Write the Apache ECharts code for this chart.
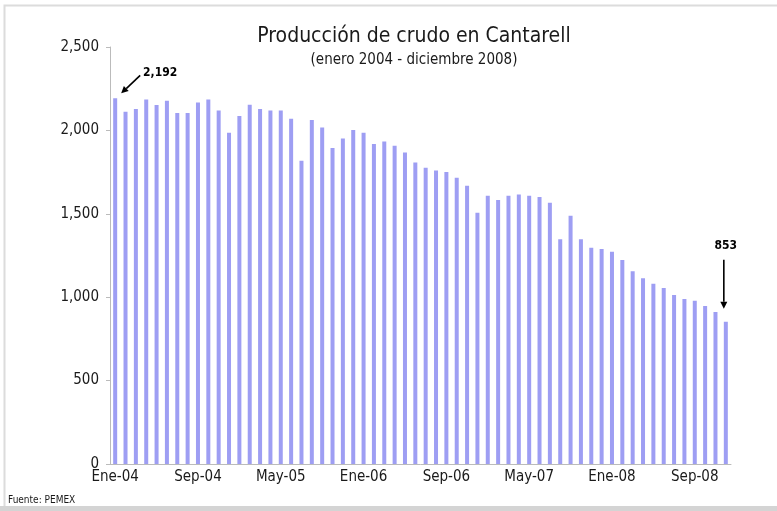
<!DOCTYPE html>
<html>
<head>
<meta charset="utf-8">
<script src="https://cdn.jsdelivr.net/npm/echarts@6/dist/echarts.min.js"></script>
<style>
  html, body { margin: 0; padding: 0; background: #fff; }
  #chart { width: 777px; height: 511px; }
</style>
</head>
<body>
<div id="chart"></div>
<script>
// meses ene-2004 .. dic-2008
const months = [
  'Ene-04','Feb-04','Mar-04','Abr-04','May-04','Jun-04','Jul-04','Ago-04','Sep-04','Oct-04','Nov-04','Dic-04',
  'Ene-05','Feb-05','Mar-05','Abr-05','May-05','Jun-05','Jul-05','Ago-05','Sep-05','Oct-05','Nov-05','Dic-05',
  'Ene-06','Feb-06','Mar-06','Abr-06','May-06','Jun-06','Jul-06','Ago-06','Sep-06','Oct-06','Nov-06','Dic-06',
  'Ene-07','Feb-07','Mar-07','Abr-07','May-07','Jun-07','Jul-07','Ago-07','Sep-07','Oct-07','Nov-07','Dic-07',
  'Ene-08','Feb-08','Mar-08','Abr-08','May-08','Jun-08','Jul-08','Ago-08','Sep-08','Oct-08','Nov-08','Dic-08'
];

// producción (miles de barriles diarios)
const produccion = [
  2192, 2112, 2128, 2186, 2152, 2178, 2104, 2104, 2168, 2186, 2120, 1986,
  2086, 2154, 2128, 2120, 2120, 2070, 1818, 2062, 2018, 1894, 1952, 2002,
  1986, 1918, 1934, 1908, 1868, 1808, 1776, 1760, 1750, 1716, 1668, 1507,
  1608, 1582, 1608, 1616, 1608, 1600, 1566, 1347, 1489, 1347, 1297, 1289,
  1273, 1223, 1155, 1113, 1081, 1055, 1013, 989, 979, 947, 911, 853
];

const yTicks = { min: 0, max: 2500, step: 500 };

const FONT = "'Liberation Sans Narrow', 'DejaVu Sans Condensed', Arial, sans-serif";
const fmt = (v) => v.toLocaleString('en-US');

const chart = echarts.init(document.getElementById('chart'));

chart.setOption({
  animation: false,
  backgroundColor: '#fff',
  title: {
    text: 'Producción de crudo en Cantarell',
    subtext: '(enero 2004 - diciembre 2008)',
    left: 409,
    textAlign: 'center',
    top: 21,
    itemGap: 6,
    textStyle: { fontFamily: FONT, fontSize: 21, fontWeight: 'normal', color: '#1a1a1a' },
    subtextStyle: { fontFamily: FONT, fontSize: 15, color: '#1a1a1a' }
  },
  grid: { left: 110, right: 46, top: 47, bottom: 47, containLabel: false },
  xAxis: {
    type: 'category',
    data: months,
    boundaryGap: true,
    axisLine: { lineStyle: { color: '#bbb' } },
    axisTick: { interval: 7, length: 4, lineStyle: { color: '#bbb' } },
    axisLabel: { interval: 7, fontFamily: FONT, fontSize: 15, color: '#1a1a1a', margin: 6 }
  },
  yAxis: {
    type: 'value',
    min: yTicks.min,
    max: yTicks.max,
    interval: yTicks.step,
    splitLine: { show: false },
    axisLine: { show: true, lineStyle: { color: '#bbb' } },
    axisTick: { show: true, length: 4, lineStyle: { color: '#bbb' } },
    axisLabel: { formatter: (v) => fmt(v), fontFamily: FONT, fontSize: 15, color: '#1a1a1a', margin: 11 }
  },
  series: [{
    type: 'bar',
    data: produccion,
    barWidth: 4,
    itemStyle: { color: '#9e9ef3' }
  }],
  graphic: [{
    type: 'text',
    left: 8, top: 495,
    style: { text: 'Fuente: PEMEX', font: `10px ${FONT}`, fill: '#1a1a1a' }
  }, {
    type: 'polyline',
    shape: { points: [[4.5, 511], [4.5, 5.5], [777, 5.5]] },
    style: { fill: 'none', stroke: '#dcdcdc', lineWidth: 2 },
    silent: true
  }, {
    type: 'rect',
    shape: { x: 0, y: 506, width: 777, height: 5 },
    style: { fill: '#d4d4d4' },
    silent: true
  }]
});

// flechas de anotación (posición calculada desde los datos)
function arrow(x1, y1, x2, y2) {
  const ang = Math.atan2(y2 - y1, x2 - x1);
  const h = 7, w = 3.5;
  const bx = x2 - h * Math.cos(ang), by = y2 - h * Math.sin(ang);
  const px = -Math.sin(ang) * w, py = Math.cos(ang) * w;
  return [
    { type: 'line', shape: { x1, y1, x2: bx, y2: by }, style: { stroke: '#000', lineWidth: 1.6 } },
    { type: 'polygon', shape: { points: [[x2, y2], [bx + px, by + py], [bx - px, by - py]] }, style: { fill: '#000' } }
  ];
}

const first = chart.convertToPixel({ seriesIndex: 0 }, [0, produccion[0]]);
const lastIdx = produccion.length - 1;
const last = chart.convertToPixel({ seriesIndex: 0 }, [lastIdx, produccion[lastIdx]]);

const extra = [
  ...arrow(first[0] + 25, first[1] - 23, first[0] + 6, first[1] - 5),
  { type: 'text', x: first[0] + 45, y: first[1] - 25,
    style: { text: fmt(produccion[0]), font: `bold 12px ${FONT}`, fill: '#000', align: 'center', verticalAlign: 'middle' } },
  ...arrow(last[0] - 2, last[1] - 62, last[0] - 2, last[1] - 13),
  { type: 'text', x: last[0], y: last[1] - 76,
    style: { text: fmt(produccion[lastIdx]), font: `bold 12px ${FONT}`, fill: '#000', align: 'center', verticalAlign: 'middle' } }
];

chart.setOption({ graphic: chart.getOption().graphic[0].elements.concat(extra) });
</script>
</body>
</html>
